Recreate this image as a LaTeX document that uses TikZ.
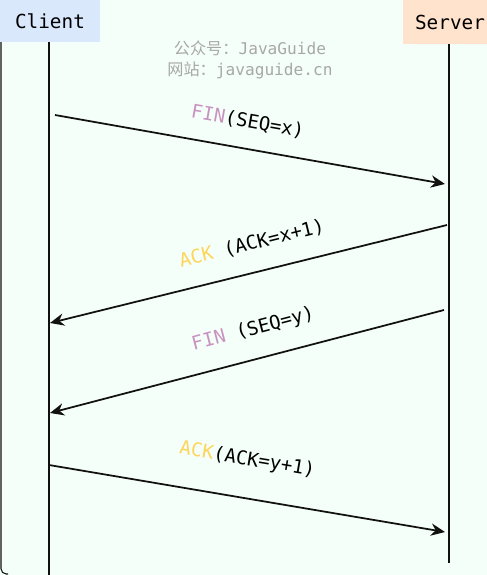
\documentclass[tikz,border=0pt]{standalone}
\usepackage{fontspec}
\setmonofont{DejaVu Sans Mono}
\newfontfamily\cjk{Noto Sans CJK SC}
\usepackage{xcolor}
\definecolor{bgmint}{HTML}{F5FFF9}
\definecolor{clientblue}{HTML}{DAE8FC}
\definecolor{serverpeach}{HTML}{FFE3CC}
\definecolor{finpink}{HTML}{C993C0}
\definecolor{ackyellow}{HTML}{FFD45A}
\definecolor{markgray}{HTML}{A8A8A8}
\definecolor{inkdark}{HTML}{111111}
\usetikzlibrary{arrows.meta,positioning}

\tikzset{
  head/.style={font=\ttfamily\fontsize{11}{13}\selectfont, text=black, inner sep=0pt},
  life/.style={draw=inkdark, line width=1.1pt},
  msg/.style={draw=inkdark, line width=1pt, -{Stealth[length=8pt,width=7pt]}},
  lbl/.style={font=\ttfamily\fontsize{10.8}{13}\selectfont, text=black, sloped, inner sep=0pt},
  watermark/.style={font=\ttfamily\fontsize{9.2}{11}\selectfont, text=markgray, inner sep=0pt}
}

\begin{document}
\begin{tikzpicture}[x=0.02cm, y=-0.02cm]
          \useasboundingbox (0,0) rectangle (487,575);
          \fill[bgmint] (0,0) rectangle (487,575);
          \draw[inkdark, line width=0.6pt, rounded corners=3pt] (1,40) -- (1,574) -- (8,574);

          % headers
          \node[head, fill=clientblue, minimum width=2cm, minimum height=0.84cm] (client) at (50,21) {Client};
          \node[head, fill=serverpeach, minimum width=1.88cm, minimum height=0.88cm] (server) at (450,22) {Server};

          % watermark
          \node[watermark] (mark1) at (250,48) {{\cjk 公众号：}JavaGuide};
          \node[watermark] (mark2) at (250,70) {{\cjk 网站：}javaguide.cn};

          % lifelines
          \coordinate (clientEnd) at (49,575);
          \coordinate (serverEnd) at (449,563);
          \draw[life] (client.south -| clientEnd) -- (clientEnd);
          \draw[life] (server.south -| serverEnd) -- (serverEnd);

          % messages
          \coordinate (fin1C) at (55,115);
          \coordinate (fin1S) at (445,184);
          \coordinate (ack1S) at (447,225);
          \coordinate (ack1C) at (50,323);
          \coordinate (fin2S) at (444,310);
          \coordinate (fin2C) at (50,413);
          \coordinate (ack2C) at (49,465);
          \coordinate (ack2S) at (445,532);

          \draw[msg] (fin1C) -- node[lbl, above=10pt, xshift=-4pt] (fin1L) {\textcolor{finpink}{FIN}(SEQ=x)} (fin1S);
          \draw[msg] (ack1S) -- node[lbl, above=11pt, xshift=6pt] (ack1L) {\textcolor{ackyellow}{ACK} (ACK=x+1)} (ack1C);
          \draw[msg] (fin2S) -- node[lbl, above=11pt, xshift=8pt] (fin2L) {\textcolor{finpink}{FIN} (SEQ=y)} (fin2C);
          \draw[msg] (ack2C) -- node[lbl, above=16pt, xshift=-3.5pt] (ack2L) {\textcolor{ackyellow}{ACK}(ACK=y+1)} (ack2S);
        \end{tikzpicture}
\end{document}
